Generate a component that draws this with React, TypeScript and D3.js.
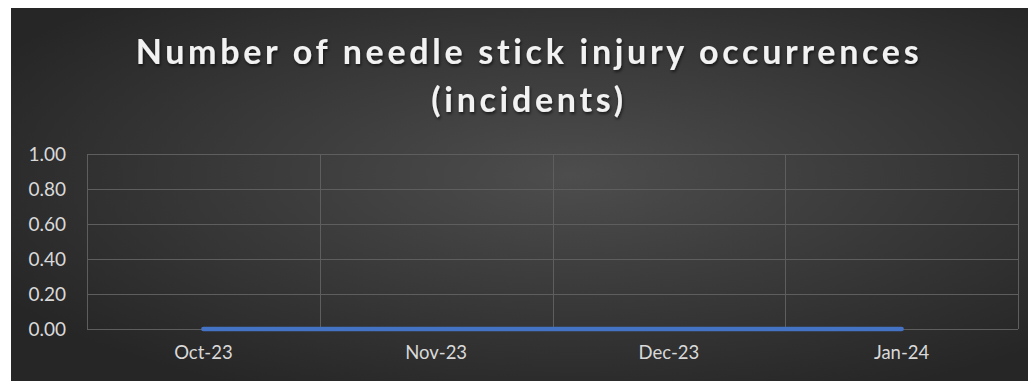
import React, { useRef, useEffect } from 'react';
import * as d3 from 'd3';

const months = ['Oct-23', 'Nov-23', 'Dec-23', 'Jan-24'];
const incidents = [0, 0, 0, 0];
const yTicks = [0, 0.2, 0.4, 0.6, 0.8, 1.0];
const titleLines = ['Number of needle stick injury occurrences', '(incidents)'];

export default function App() {
  const ref = useRef<SVGSVGElement>(null);

  useEffect(() => {
    const width = 1028;
    const height = 381;
    const margin = { top: 154, right: 10, bottom: 52, left: 87 };
    const svg = d3.select(ref.current);
    svg.selectAll('*').remove();

    const defs = svg.append('defs');
    const grad = defs.append('radialGradient')
      .attr('id', 'bg')
      .attr('cx', '55%').attr('cy', '45%').attr('r', '65%');
    grad.append('stop').attr('offset', '0%').attr('stop-color', '#4d4d4d');
    grad.append('stop').attr('offset', '100%').attr('stop-color', '#262626');

    const shadow = defs.append('filter').attr('id', 'shadow')
      .attr('x', '-5%').attr('y', '-20%').attr('width', '110%').attr('height', '140%');
    shadow.append('feDropShadow')
      .attr('dx', 1).attr('dy', 2).attr('stdDeviation', 1.5)
      .attr('flood-color', '#000').attr('flood-opacity', 0.6);

    svg.append('rect')
      .attr('x', 11).attr('y', 8)
      .attr('width', width - 11).attr('height', height - 8)
      .attr('fill', 'url(#bg)');

    const x = d3.scaleBand().domain(months)
      .range([margin.left, width - margin.right]);
    const y = d3.scaleLinear().domain([0, 1])
      .range([height - margin.bottom, margin.top]);

    const font = 'Lato, "Open Sans", sans-serif';

    // title (letter-spacing leaves a trailing gap, so nudge right by half of it)
    svg.append('g')
      .selectAll('text')
      .data(titleLines)
      .enter()
      .append('text')
      .attr('x', 529)
      .attr('y', (d, i) => 64 + i * 48)
      .attr('text-anchor', 'middle')
      .attr('font-family', font)
      .attr('font-weight', 'bold')
      .attr('font-size', 34)
      .attr('letter-spacing', 3.7)
      .attr('fill', '#f2f2f2')
      .attr('filter', 'url(#shadow)')
      .text(d => d);

    const grid = svg.append('g')
      .attr('stroke', '#5e5e5e')
      .attr('stroke-width', 1)
      .attr('fill', 'none');

    grid.selectAll('line.h')
      .data(yTicks)
      .enter()
      .append('line')
      .attr('class', 'h')
      .attr('x1', margin.left).attr('x2', width - margin.right)
      .attr('y1', d => Math.round(y(d)) + 0.5)
      .attr('y2', d => Math.round(y(d)) + 0.5);

    const bounds = months.map(m => x(m)!).concat([x.range()[1]]);
    grid.selectAll('line.v')
      .data(bounds)
      .enter()
      .append('line')
      .attr('class', 'v')
      .attr('x1', d => Math.round(d) + 0.5).attr('x2', d => Math.round(d) + 0.5)
      .attr('y1', y(1)).attr('y2', y(0));

    // y labels
    svg.append('g')
      .selectAll('text')
      .data(yTicks)
      .enter()
      .append('text')
      .attr('x', 66)
      .attr('y', d => y(d))
      .attr('dy', '0.35em')
      .attr('text-anchor', 'end')
      .attr('font-family', font)
      .attr('font-size', 19)
      .attr('fill', '#d9d9d9')
      .text(d => d3.format('.2f')(d));

    // x labels
    svg.append('g')
      .selectAll('text')
      .data(months)
      .enter()
      .append('text')
      .attr('x', d => x(d)! + x.bandwidth() / 2)
      .attr('y', height - 22)
      .attr('text-anchor', 'middle')
      .attr('font-family', font)
      .attr('font-size', 18.5)
      .attr('fill', '#d9d9d9')
      .text(d => d);

    const line = d3.line<number>()
      .x((d, i) => x(months[i])! + x.bandwidth() / 2)
      .y(d => y(d));

    svg.append('path')
      .datum(incidents)
      .attr('d', line)
      .attr('fill', 'none')
      .attr('stroke', '#4472c4')
      .attr('stroke-width', 4.5)
      .attr('stroke-linecap', 'round');
  }, []);

  return (
    <svg ref={ref} width={1028} height={381}
      style={{ position: 'absolute', left: 0, top: 0, display: 'block' }} />
  );
}
